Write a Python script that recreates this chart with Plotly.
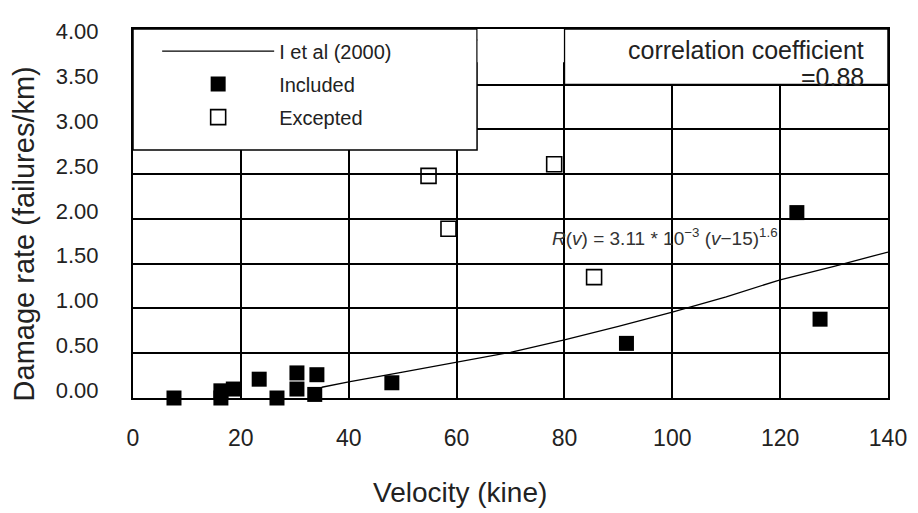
import plotly.graph_objects as go

# ---- data ----
included_v = [7.6, 16.3, 16.3, 18.6, 23.4, 26.7, 28.4, 30.4, 30.4, 34.1, 33.7, 48.0, 91.5, 123.1, 127.4]
included_r = [0.00, 0.08, 0.00, 0.10, 0.21, 0.00, -0.03, 0.28, 0.10, 0.26, 0.04, 0.17, 0.61, 2.07, 0.88]

excepted_v = [54.8, 58.5, 78.1, 85.5]
excepted_r = [2.48, 1.89, 2.61, 1.35]

curve_v = [35, 40, 50, 60, 70, 80, 90, 100, 110, 120, 130, 140]
curve_r = [0.12, 0.18, 0.29, 0.40, 0.51, 0.65, 0.80, 0.96, 1.13, 1.32, 1.47, 1.63]

x_ticks = [0, 20, 40, 60, 80, 100, 120, 140]
y_ticks = [0.0, 0.5, 1.0, 1.5, 2.0, 2.5, 3.0, 3.5, 4.0]

FONT = "Liberation Sans, Arial, sans-serif"
TXT = "#222222"

fig = go.Figure()

fig.add_trace(go.Scatter(
    x=curve_v, y=curve_r, mode="lines", name="I et al (2000)",
    line=dict(color="black", width=1.3), legendgroup="a",
))
fig.add_trace(go.Scatter(
    x=included_v, y=included_r, mode="markers", name="Included",
    marker=dict(symbol="square", size=15, color="black"), legendgroup="b",
    cliponaxis=False,
))
fig.add_trace(go.Scatter(
    x=excepted_v, y=excepted_r, mode="markers", name="Excepted",
    marker=dict(symbol="square-open", size=15, color="black", line=dict(width=1.6)),
    legendgroup="c", cliponaxis=False,
))

y_top = 4.12

shapes = [
    # legend box
    dict(type="rect", xref="x", yref="y", x0=0, x1=63.8, y0=2.77, y1=y_top,
         fillcolor="white", line=dict(color="black", width=1.5), layer="between"),
    # correlation box
    dict(type="rect", xref="x", yref="y", x0=80, x1=140, y0=3.5, y1=y_top,
         fillcolor="white", line=dict(color="black", width=1.5), layer="between"),
    # blank strip between boxes (no 4.00 grid line in reference)
    dict(type="rect", xref="x", yref="y", x0=63.9, x1=79.9, y0=3.75, y1=y_top,
         fillcolor="white", line=dict(width=0), layer="between"),
]

annotations = [
    dict(text="correlation coefficient", xref="x", yref="y",
         x=136.0, y=3.884, xanchor="right", yanchor="middle", align="right",
         showarrow=False, font=dict(family=FONT, size=25, color=TXT)),
    dict(text="=0.88", xref="x", yref="y",
         x=136.0, y=3.583, xanchor="right", yanchor="middle", align="right",
         showarrow=False, font=dict(family=FONT, size=25, color=TXT)),
    dict(text="<i>R</i>(<i>v</i>) = 3.11 * 10<sup>\u22123</sup> (<i>v</i>\u221215)<sup>1.6</sup>",
         xref="x", yref="y", x=77.3, y=1.80, xanchor="left", yanchor="middle",
         showarrow=False, font=dict(family=FONT, size=19, color="#333333")),
    dict(text="Velocity (kine)", xref="paper", yref="paper",
         x=0.433, y=-0.257, xanchor="center", yanchor="middle",
         showarrow=False, font=dict(family=FONT, size=28, color=TXT)),
    dict(text="Damage rate (failures/km)", xref="paper", yref="paper",
         x=-0.144, y=0.444, xanchor="center", yanchor="middle", textangle=-90,
         showarrow=False, font=dict(family=FONT, size=29, color=TXT)),
]

fig.update_layout(
    width=918, height=513,
    margin=dict(l=133, r=30, t=29, b=115),
    paper_bgcolor="white", plot_bgcolor="white",
    font=dict(family=FONT, color=TXT),
    showlegend=True,
    legend=dict(x=0.032, y=0.993, xanchor="left", yanchor="top",
                bgcolor="rgba(0,0,0,0)", borderwidth=0,
                font=dict(family=FONT, size=20, color=TXT),
                itemwidth=112, tracegroupgap=4, traceorder="grouped"),
    shapes=shapes,
    annotations=annotations,
)

fig.update_xaxes(
    range=[0, 140], tickvals=x_ticks, ticktext=[str(v) for v in x_ticks],
    showgrid=True, gridcolor="black", gridwidth=1.5,
    showline=True, linecolor="black", linewidth=2, mirror=True,
    zeroline=False, ticks="", ticklabelstandoff=18,
    tickfont=dict(family=FONT, size=23, color=TXT),
)
fig.update_yaxes(
    range=[0, y_top], tickvals=y_ticks, ticktext=[f"{v:.2f}" for v in y_ticks],
    showgrid=True, gridcolor="black", gridwidth=1.5,
    showline=True, linecolor="black", linewidth=2, mirror=True,
    zeroline=False, ticks="", ticklabelstandoff=28, ticklabelshift=-8,
    tickfont=dict(family=FONT, size=22, color=TXT),
)

fig.write_html("out.html")
